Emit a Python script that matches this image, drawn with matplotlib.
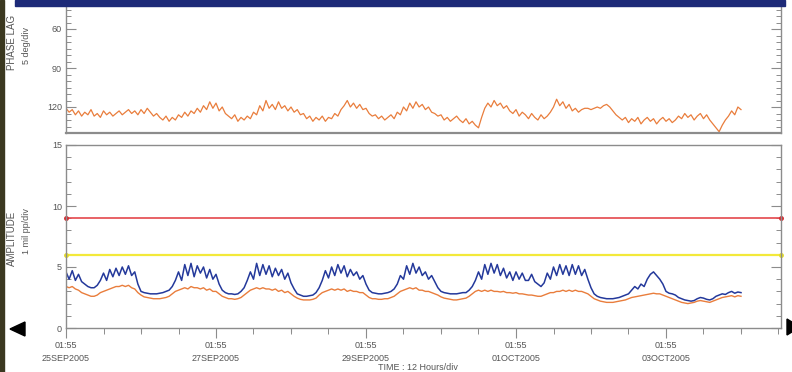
import numpy as np
import matplotlib
matplotlib.use("Agg")
import matplotlib.pyplot as plt
from matplotlib.patches import Rectangle, Polygon
from matplotlib.ticker import MultipleLocator, FixedLocator

plt.rcParams['font.family'] = ['Liberation Sans', 'DejaVu Sans']

# Hourly samples starting 25SEP2005 01:55
phase_lag = [
    121, 124, 122, 126, 123, 127, 124, 126, 122, 127, 125, 128,
    123, 126, 124, 127, 125, 123, 126, 124, 122, 125, 123, 126,
    122, 125, 121, 124, 127, 125, 128, 130, 127, 131, 128, 130,
    126, 128, 124, 127, 123, 125, 121, 124, 119, 122, 116, 121,
    117, 123, 120, 125, 127, 129, 126, 131, 128, 130, 127, 129,
    124, 126, 119, 123, 115, 121, 118, 122, 116, 121, 119, 123,
    120, 124, 122, 126, 125, 129, 127, 131, 128, 130, 127, 131,
    128, 129, 125, 127, 122, 119, 115, 120, 117, 121, 118, 122,
    121, 125, 127, 126, 129, 127, 130, 128, 126, 129, 124, 126,
    120, 123, 117, 121, 116, 120, 118, 122, 120, 124, 125, 127,
    126, 130, 128, 131, 129, 127, 130, 132, 129, 133, 131, 134,
    136, 128, 121, 117, 120, 115, 119, 117, 121, 119, 123, 125,
    122, 127, 124, 126, 129, 125, 128, 130, 126, 129, 127, 124,
    120, 114, 119, 116, 121, 118, 123, 121, 124, 122, 121, 121,
    122, 121, 120, 121, 119, 118, 120, 123, 126, 128, 130, 128,
    132, 129, 131, 128, 133, 130, 128, 131, 129, 133, 130, 128,
    131, 129, 132, 130, 127, 129, 125, 128, 126, 130, 127, 125,
    129, 126, 130, 133, 136, 139, 134, 130, 127, 123, 126, 120,
    122,
]

amp_overall = [
    4.6, 4.0, 4.7, 3.9, 4.4, 3.8, 3.6, 3.4, 3.3, 3.3, 3.5, 3.9,
    4.5, 3.9, 4.8, 4.2, 4.9, 4.3, 5.0, 4.4, 5.1, 4.3, 4.6, 3.6,
    3.0, 2.9, 2.85, 2.8, 2.8, 2.8, 2.85, 2.9, 3.0, 3.1, 3.4, 3.9,
    4.6, 3.9, 5.2, 4.3, 5.3, 4.2, 5.1, 4.5, 5.0, 4.1, 4.8, 4.0,
    4.4, 3.6, 3.1, 2.9, 2.8, 2.8, 2.75, 2.8, 3.0, 3.3, 3.9, 4.6,
    4.0, 5.3, 4.3, 5.2, 4.4, 5.1, 4.2, 4.9, 4.3, 4.8, 4.0, 4.5,
    3.7, 3.2, 2.8, 2.7, 2.6, 2.6, 2.65, 2.7, 2.9, 3.3, 3.9, 4.7,
    4.1, 5.0, 4.3, 5.2, 4.5, 5.1, 4.2, 4.8, 4.3, 4.6, 4.0, 4.3,
    3.6, 3.1, 2.9, 2.85, 2.8, 2.8, 2.85, 2.9, 3.0, 3.2, 3.6, 4.3,
    4.0, 5.1, 4.4, 5.3, 4.5, 5.0, 4.3, 4.6, 4.0, 4.3, 3.8, 3.3,
    3.0, 2.9, 2.85, 2.8, 2.8, 2.8, 2.85, 2.9, 2.9, 3.1, 3.4, 3.9,
    4.6, 4.0, 5.2, 4.4, 5.3, 4.5, 5.2, 4.3, 4.9, 4.1, 4.6, 3.9,
    4.6, 4.0, 4.5, 3.9, 3.9, 4.4, 3.8, 3.6, 3.4, 3.7, 4.5, 4.0,
    5.0, 4.3, 5.2, 4.4, 5.1, 4.3, 5.2, 4.4, 5.1, 4.3, 4.8, 4.0,
    3.3, 2.8, 2.6, 2.5, 2.45, 2.4, 2.4, 2.4, 2.45, 2.5, 2.6, 2.7,
    2.8, 3.1, 3.4, 3.2, 3.6, 3.4, 4.0, 4.4, 4.6, 4.3, 4.0, 3.6,
    3.0, 2.85, 2.8, 2.7, 2.5, 2.4, 2.3, 2.25, 2.2, 2.25, 2.4, 2.5,
    2.45, 2.35, 2.3, 2.4, 2.6, 2.7, 2.8, 2.75, 2.9, 3.0, 2.85, 2.95,
    2.9,
]

amp_1x = [
    3.4, 3.3, 3.4, 3.2, 3.1, 2.9, 2.8, 2.7, 2.6, 2.6, 2.7, 2.9,
    3.0, 3.1, 3.2, 3.3, 3.4, 3.4, 3.5, 3.4, 3.5, 3.3, 3.2, 2.9,
    2.7, 2.55, 2.5, 2.45, 2.4, 2.4, 2.4, 2.45, 2.5, 2.6, 2.8, 3.0,
    3.1, 3.2, 3.3, 3.2, 3.4, 3.3, 3.3, 3.2, 3.3, 3.1, 3.2, 3.0,
    3.0, 2.8, 2.6, 2.5, 2.4, 2.4, 2.35, 2.4, 2.5, 2.7, 2.9, 3.1,
    3.2, 3.3, 3.2, 3.3, 3.2, 3.2, 3.1, 3.2, 3.0, 3.1, 2.9, 3.0,
    2.8, 2.6, 2.45, 2.35, 2.3, 2.3, 2.3, 2.35, 2.45, 2.7, 2.9, 3.0,
    3.1, 3.2, 3.1, 3.2, 3.1, 3.2, 3.0, 3.1, 3.0, 3.0, 2.9, 2.9,
    2.7, 2.5, 2.4, 2.4, 2.35, 2.35, 2.4, 2.4, 2.5, 2.6, 2.8, 3.0,
    3.1, 3.2, 3.3, 3.2, 3.3, 3.1, 3.1, 3.0, 3.0, 2.9, 2.8, 2.7,
    2.55, 2.45, 2.4, 2.35, 2.3, 2.3, 2.35, 2.4, 2.45, 2.6, 2.8, 3.0,
    3.1, 3.0, 3.1, 3.0, 3.1, 3.0, 3.0, 2.95, 3.0, 2.9, 2.9, 2.85,
    2.9, 2.8, 2.8, 2.75, 2.7, 2.7, 2.65, 2.6, 2.6, 2.7, 2.8, 2.9,
    2.9, 3.0, 3.0, 3.1, 3.0, 3.1, 3.0, 3.1, 3.0, 3.0, 2.9, 2.8,
    2.6, 2.4, 2.3, 2.2, 2.15, 2.1, 2.1, 2.1, 2.15, 2.2, 2.25, 2.3,
    2.4, 2.5, 2.55, 2.6, 2.65, 2.7, 2.75, 2.8, 2.85, 2.8, 2.8, 2.7,
    2.6, 2.5, 2.4, 2.3, 2.2, 2.1, 2.05, 2.0, 2.05, 2.1, 2.2, 2.25,
    2.2, 2.15, 2.1, 2.2, 2.3, 2.4, 2.5, 2.55, 2.6, 2.65, 2.55, 2.65,
    2.6,
]

alarm_level = 9.0
alert_level = 6.0

date_labels = ["01:55\n25SEP2005", "01:55\n27SEP2005", "01:55\n29SEP2005",
               "01:55\n01OCT2005", "01:55\n03OCT2005"]
date_ticks_h = [0, 48, 96, 144, 192]

W, H = 792, 372
fig = plt.figure(figsize=(W / 100, H / 100), dpi=100)
fig.patch.set_facecolor('white')


def box(x0, y0, x1, y1):
    return [x0 / W, 1 - y1 / H, (x1 - x0) / W, (y1 - y0) / H]


XMAX = (781 - 66) / 75 * 24  # hours across the plot width
frame_col = '#8c8c8c'
text_col = '#555555'
orange = '#e97d3c'
blue = '#24399b'

ax1 = fig.add_axes(box(66, 3, 781, 133))
ax2 = fig.add_axes(box(66, 145, 781, 328))

for ax in (ax1, ax2):
    ax.set_xlim(0, XMAX)
    for s in ax.spines.values():
        s.set_color(frame_col)
        s.set_linewidth(1.0)
    ax.tick_params(axis='y', which='both', direction='in', left=True, right=True,
                   colors=frame_col, labelcolor=text_col, labelsize=6.5, pad=3)
    ax.tick_params(axis='y', which='major', length=7, width=0.8)
    ax.tick_params(axis='y', which='minor', length=3.5, width=0.7)
ax1.spines['bottom'].set_linewidth(1.6)

# Phase lag panel
t_phase = np.arange(len(phase_lag))
ax1.plot(t_phase, phase_lag, color=orange, lw=0.9)
ax1.set_ylim(140, 40)
ax1.yaxis.set_major_locator(FixedLocator([60, 90, 120]))
ax1.yaxis.set_minor_locator(MultipleLocator(5))
ax1.set_xticks([])

# Amplitude panel
t_amp = np.arange(len(amp_overall))
ax2.axhline(alarm_level, color='#e4474b', lw=1.2)
ax2.axhline(alert_level, color='#f3e93a', lw=1.6)
ax2.plot([0, XMAX], [alarm_level] * 2, 'o', color='#d42b30', ms=2.5, clip_on=False)
ax2.plot([0, XMAX], [alert_level] * 2, 'o', color='#e5dc2a', ms=2.5, clip_on=False)
ax2.plot(t_amp, amp_1x, color=orange, lw=1.0)
ax2.plot(t_amp, amp_overall, color=blue, lw=1.1)
ax2.set_ylim(0, 15)
ax2.yaxis.set_major_locator(FixedLocator([0, 5, 10, 15]))
ax2.yaxis.set_minor_locator(MultipleLocator(1))

ax2.set_xticks(date_ticks_h)
ax2.set_xticklabels(date_labels, fontsize=6.5, color=text_col, linespacing=1.7)
ax2.xaxis.set_minor_locator(MultipleLocator(12))
ax2.tick_params(axis='x', which='major', direction='out', length=7, width=0.8,
                colors=frame_col, labelcolor=text_col, pad=2)
ax2.tick_params(axis='x', which='minor', direction='out', length=4, width=0.7,
                colors=frame_col)
day_ticks = [d for d in range(24, int(XMAX) + 1, 48)]
ax2.vlines(day_ticks, -0.35, 0, colors=frame_col, lw=0.8, clip_on=False,
           transform=ax2.transData)

# Axis captions
fig.text(12 / W, 1 - 42 / H, "PHASE LAG", rotation=90, ha='center', va='center',
         fontsize=7, color=text_col)
fig.text(27 / W, 1 - 45 / H, "5 deg/div", rotation=90, ha='center', va='center',
         fontsize=6.5, color=text_col)
fig.text(12 / W, 1 - 238 / H, "AMPLITUDE", rotation=90, ha='center', va='center',
         fontsize=7, color=text_col)
fig.text(27 / W, 1 - 231 / H, "1 mil pp/div", rotation=90, ha='center', va='center',
         fontsize=6.5, color=text_col)
fig.text(378 / W, 1 - 367 / H, "TIME : 12 Hours/div", ha='left', va='center',
         fontsize=6.5, color=text_col)

# Window chrome
fig.patches.append(Rectangle((15 / W, 1 - 6 / H), 770 / W, 6 / H,
                             transform=fig.transFigure, color='#1d2a78', zorder=10))
fig.patches.append(Rectangle((0, 0), 4 / W, 1, transform=fig.transFigure,
                             color='#3b3820', zorder=10))


def tri(pts):
    return Polygon([(x / W, 1 - y / H) for x, y in pts], closed=True,
                   transform=fig.transFigure, color='black', zorder=10)


fig.patches.append(tri([(10, 329), (25, 322), (25, 336)]))
fig.patches.append(tri([(787, 319), (787, 335), (800, 327)]))

fig.savefig("out.png", dpi=100, facecolor='white')
